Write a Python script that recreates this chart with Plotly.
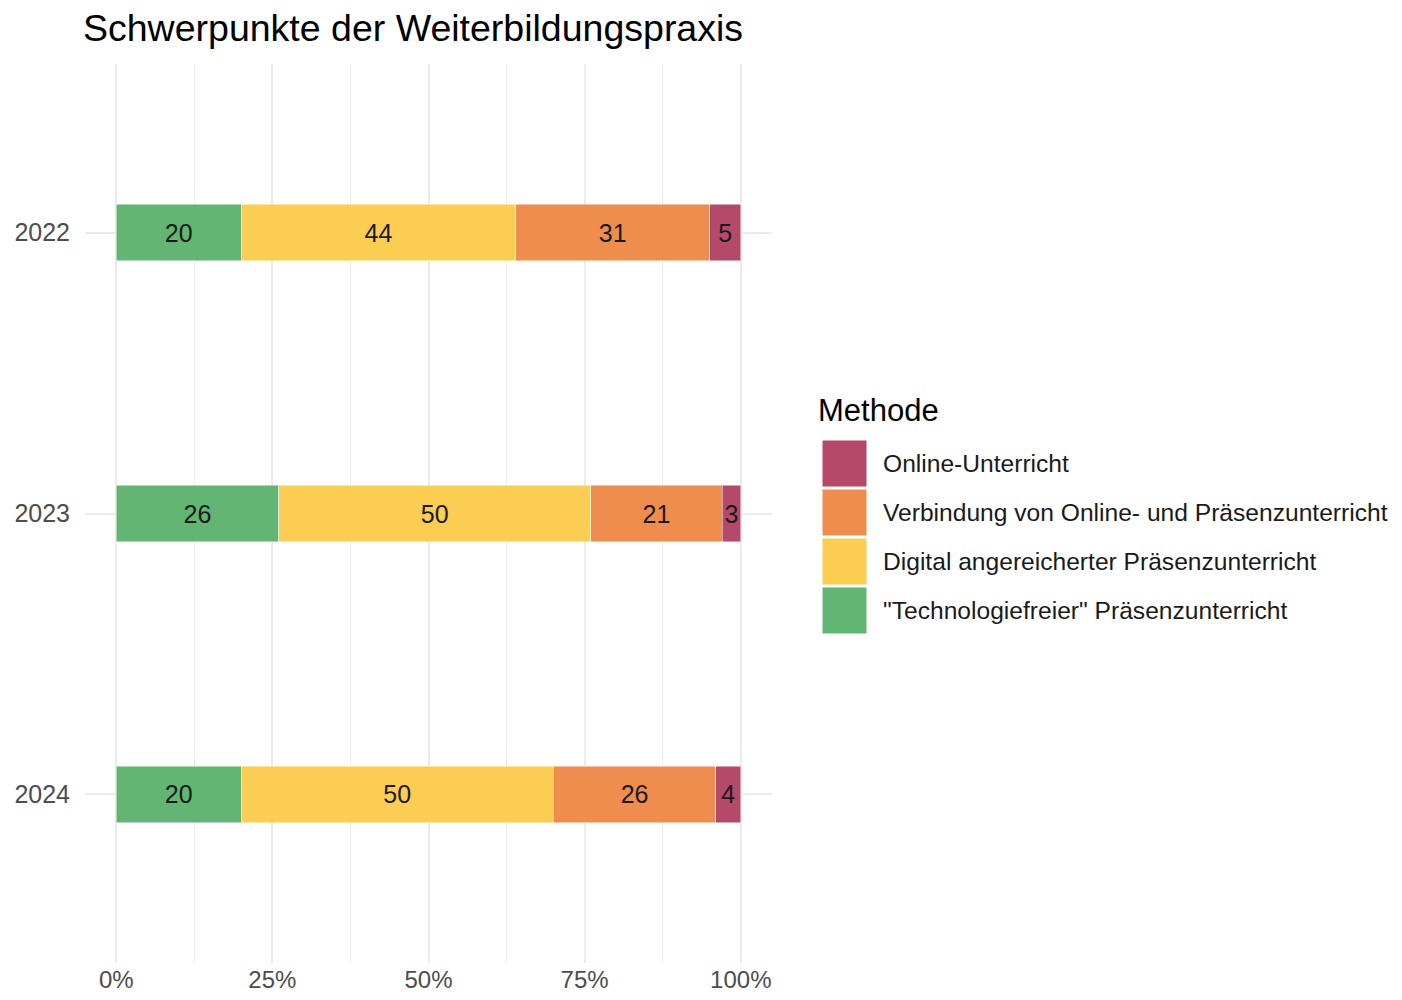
import plotly.graph_objects as go

# ---- data ----
years = ["2022", "2023", "2024"]
methods = [
    "\"Technologiefreier\" Präsenzunterricht",
    "Digital angereicherter Präsenzunterricht",
    "Verbindung von Online- und Präsenzunterricht",
    "Online-Unterricht",
]
technologiefrei = [20, 26, 20]
digital_angereichert = [44, 50, 50]
verbindung = [31, 21, 26]
online = [5, 3, 4]
series_values = [technologiefrei, digital_angereichert, verbindung, online]
colors = ["#62B573", "#FCCD53", "#EE8D4E", "#B4496A"]
x_tickvals = [0, 25, 50, 75, 100]
x_ticktext = ["0%", "25%", "50%", "75%", "100%"]

FONT = "Liberation Sans, Arial, Helvetica, sans-serif"
OFF = 8  # page body margin
W, H = 1402 - OFF, 1000 - OFF
# plot area in page pixels
PL, PR, PT, PB = 85, 772, 64, 963
L, R, T, B = PL - OFF, PR - OFF, PT - OFF, PB - OFF


def xp(px):  # page px -> paper
    return (px - PL) / (PR - PL)


def yp(py):
    return (PB - py) / (PB - PT)


fig = go.Figure()
for name, vals, col in zip(methods, series_values, colors):
    fig.add_trace(go.Bar(
        y=years, x=vals, name=name, orientation="h",
        width=0.2,
        marker=dict(color=col, line=dict(color="rgba(255,255,255,0.8)", width=0.6)),
        text=[str(v) for v in vals], texttemplate="%{text}",
        textposition="inside", insidetextanchor="middle", textangle=0,
        constraintext="none",
        textfont=dict(family=FONT, size=25, color="#1a1a1a"),
        showlegend=False, hoverinfo="skip",
    ))

fig.update_layout(
    width=W, height=H,
    barmode="stack",
    plot_bgcolor="white", paper_bgcolor="white",
    margin=dict(l=L, r=W - R, t=T, b=H - B, pad=0),
    font=dict(family=FONT),
    showlegend=False,
)
fig.update_xaxes(
    range=[-5, 105], tickvals=x_tickvals, ticktext=x_ticktext,
    showgrid=True, gridcolor="#EBEBEB", gridwidth=2,
    minor=dict(dtick=12.5, tick0=0, showgrid=True, gridcolor="#EBEBEB", gridwidth=1.1),
    zeroline=False, showline=False, automargin=False,
    ticks="", 
    tickfont=dict(family=FONT, size=24, color="#4D4D4D"),
)
fig.update_yaxes(
    type="category", categoryorder="array", categoryarray=years,
    range=[2.6, -0.6],
    showgrid=True, gridcolor="#EBEBEB", gridwidth=2,
    zeroline=False, showline=False, automargin=False,
    ticks="outside", ticklen=9, tickcolor="rgba(0,0,0,0)",
    tickfont=dict(family=FONT, size=25, color="#4D4D4D"),
)

# title
fig.add_annotation(
    text="Schwerpunkte der Weiterbildungspraxis",
    xref="paper", yref="paper", x=xp(81), y=yp(28),
    xanchor="left", yanchor="middle", showarrow=False,
    font=dict(family=FONT, size=37.5, color="#000000"),
)

# custom legend (ggplot style)
fig.add_annotation(
    text="Methode", xref="paper", yref="paper", x=xp(816), y=yp(410),
    xanchor="left", yanchor="middle", showarrow=False,
    font=dict(family=FONT, size=31, color="#000000"),
)
legend_order = [3, 2, 1, 0]
key_top = 439
key_h = 49
for i, idx in enumerate(legend_order):
    y0 = key_top + i * key_h
    fig.add_shape(
        type="rect", xref="paper", yref="paper",
        x0=xp(822), x1=xp(867), y0=yp(y0 + key_h - 1), y1=yp(y0 + 1),
        fillcolor=colors[idx], line=dict(color="white", width=1),
    )
    fig.add_annotation(
        text=methods[idx], xref="paper", yref="paper",
        x=xp(881), y=yp(y0 + key_h / 2),
        xanchor="left", yanchor="middle", showarrow=False,
        font=dict(family=FONT, size=24.6, color="#1a1a1a"),
    )

fig.write_html("out.html")
